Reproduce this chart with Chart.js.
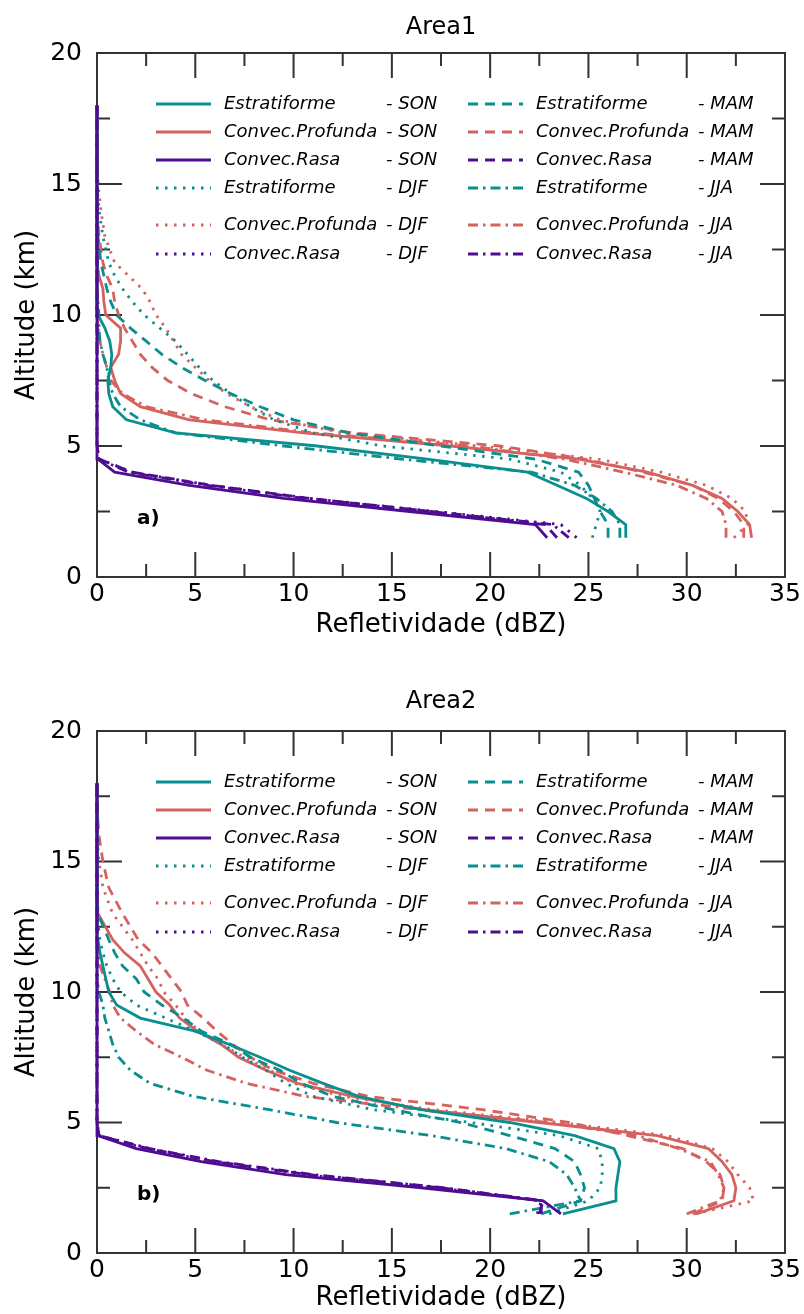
<!DOCTYPE html>
<html>
<head>
<meta charset="utf-8">
<script src="https://cdn.jsdelivr.net/npm/chart.js@4.4.1/dist/chart.umd.min.js"></script>
<style>
  html, body { margin: 0; padding: 0; background: #fff; }
  #wrap1 { position: absolute; left: 0; top: 0; width: 804px; height: 650px; }
  #wrap2 { position: absolute; left: 0; top: 650px; width: 804px; height: 664px; }
</style>
</head>
<body>
<div id="wrap1"><canvas id="area1"></canvas></div>
<div id="wrap2"><canvas id="area2"></canvas></div>
<script>
// altitude levels (km) shared by every profile
const levels = [1.5, 2, 2.5, 3, 3.5, 4, 4.5, 5, 5.5, 6, 6.5, 7, 7.5, 8, 8.5, 9, 9.5, 10, 10.5, 11, 11.5, 12, 13, 14, 15, 16, 17, 18];

const xTicks = [0, 5, 10, 15, 20, 25, 30, 35];
const yTicks = [0, 5, 10, 15, 20];

// Area1 - reflectivity (dBZ) at each level
const estSON1 = [26.9, 26.9, 26.0, 24.9, 23.4, 21.9, 16.8, 11.2, 4.0, 1.5, 0.8, 0.6, 0.55, 0.7, 0.75, 0.65, 0.4, 0.05, 0, 0, 0, 0, 0, 0, 0, 0, 0, 0];
const estMAM1 = [26.0, 26.0, 25.6, 25.3, 25.0, 24.5, 22.3, 17.5, 12.8, 10.0, 8.3, 6.8, 5.5, 4.3, 3.3, 2.5, 1.7, 1.0, 0.7, 0.5, 0.35, 0.2, 0.05, 0, 0, 0, 0, 0];
const estDJF1 = [25.2, 25.4, 25.6, 25.2, 24.6, 23.6, 21.0, 14.5, 11.0, 9.0, 7.8, 6.8, 5.9, 5.2, 4.6, 4.0, 3.2, 2.4, 1.8, 1.3, 0.9, 0.6, 0.3, 0.1, 0, 0, 0, 0];
const estJJA1 = [26.6, 26.6, 26.2, 25.4, 24.3, 22.1, 15.5, 9.5, 4.0, 2.2, 1.2, 0.8, 0.6, 0.5, 0.3, 0.15, 0.1, 0.1, 0.05, 0, 0, 0, 0, 0, 0, 0, 0, 0];
const profSON1 = [33.3, 33.2, 32.6, 31.8, 30.3, 28.0, 24.5, 18.0, 10.5, 4.7, 2.2, 1.2, 0.9, 0.7, 1.1, 1.2, 1.2, 0.45, 0.35, 0.3, 0.1, 0, 0, 0, 0, 0, 0, 0];
const profMAM1 = [32.9, 32.9, 32.4, 31.6, 30.3, 27.8, 24.8, 20.5, 13.0, 8.8, 6.5, 4.8, 3.6, 2.8, 2.2, 1.8, 1.4, 1.1, 0.9, 0.8, 0.5, 0.3, 0.1, 0, 0, 0, 0, 0];
const profDJF1 = [32.4, 33.1, 33.0, 32.3, 31.0, 28.7, 25.5, 19.5, 12.5, 9.3, 7.8, 6.6, 5.7, 5.0, 4.3, 3.9, 3.5, 3.0, 2.7, 2.3, 1.6, 0.9, 0.4, 0.2, 0.05, 0, 0, 0];
const profJJA1 = [32.0, 32.0, 31.8, 31.0, 29.5, 26.8, 23.8, 19.0, 11.0, 5.5, 2.5, 1.3, 0.7, 0.5, 0.3, 0.15, 0.05, 0, 0, 0, 0, 0, 0, 0, 0, 0, 0, 0];
const rasaSON1 = [22.9, 22.3, 15.9, 9.5, 4.7, 0.9, 0.05, 0, 0, 0, 0, 0, 0, 0, 0, 0, 0, 0, 0, 0, 0, 0, 0, 0, 0, 0, 0, 0];
const rasaMAM1 = [23.4, 22.8, 17.0, 10.8, 5.8, 1.8, 0.1, 0, 0, 0, 0, 0, 0, 0, 0, 0, 0, 0, 0, 0, 0, 0, 0, 0, 0, 0, 0, 0];
const rasaDJF1 = [24.4, 23.6, 17.2, 10.8, 5.8, 1.8, 0.1, 0, 0, 0, 0, 0, 0, 0, 0, 0, 0, 0, 0, 0, 0, 0, 0, 0, 0, 0, 0, 0];
const rasaJJA1 = [24.0, 23.2, 17.0, 10.6, 5.6, 1.6, 0.1, 0, 0, 0, 0, 0, 0, 0, 0, 0, 0, 0, 0, 0, 0, 0, 0, 0, 0, 0, 0, 0];

// Area2
const estSON2 = [23.7, 26.4, 26.4, 26.5, 26.6, 26.3, 24.3, 21.0, 16.4, 13.3, 11.5, 9.8, 8.3, 6.7, 5.0, 2.2, 1.0, 0.6, 0.45, 0.3, 0.15, 0.05, 0, 0, 0, 0, 0, 0];
const estMAM2 = [22.6, 24.6, 24.8, 24.6, 24.3, 23.3, 21.0, 18.5, 15.0, 12.0, 10.4, 9.3, 7.8, 6.8, 5.3, 4.4, 3.3, 2.4, 2.0, 1.3, 0.9, 0.6, 0.05, 0, 0, 0, 0, 0];
const estDJF2 = [23.0, 25.0, 25.6, 25.7, 25.7, 25.5, 23.5, 19.0, 14.0, 11.0, 9.6, 8.6, 7.4, 6.4, 5.0, 3.5, 2.0, 1.2, 0.8, 0.5, 0.3, 0.15, 0, 0, 0, 0, 0, 0];
const estJJA2 = [21.0, 24.6, 24.3, 23.9, 23.0, 20.8, 17.0, 12.2, 8.7, 4.9, 2.7, 1.7, 1.1, 0.8, 0.6, 0.4, 0.3, 0.1, 0, 0, 0, 0, 0, 0, 0, 0, 0, 0];
const profSON2 = [30.5, 32.4, 32.5, 32.3, 31.8, 31.1, 28.5, 22.5, 16.5, 13.0, 10.2, 8.6, 7.2, 6.3, 5.1, 4.2, 3.7, 3.0, 2.6, 2.2, 1.4, 0.8, 0.05, 0, 0, 0, 0, 0];
const profMAM2 = [30.3, 31.8, 31.9, 31.7, 31.0, 29.8, 27.0, 24.0, 19.5, 13.8, 11.0, 9.0, 7.8, 6.9, 6.1, 5.4, 4.6, 4.3, 3.8, 3.3, 2.8, 2.1, 1.3, 0.6, 0.3, 0.1, 0, 0];
const profDJF2 = [30.4, 33.4, 33.2, 32.6, 32.1, 31.3, 29.0, 23.5, 17.0, 12.5, 10.0, 8.8, 7.5, 6.3, 5.2, 4.5, 4.0, 3.4, 3.1, 2.6, 2.2, 1.8, 0.8, 0.3, 0.1, 0, 0, 0];
const profJJA2 = [30.0, 31.7, 31.9, 31.6, 31.2, 29.6, 27.5, 23.0, 16.3, 10.6, 7.6, 5.6, 4.3, 2.9, 2.0, 1.2, 0.8, 0.65, 0.4, 0.15, 0.05, 0, 0, 0, 0, 0, 0, 0];
const rasaSON2 = [23.6, 22.7, 16.5, 9.6, 5.3, 2.0, 0.05, 0, 0, 0, 0, 0, 0, 0, 0, 0, 0, 0, 0, 0, 0, 0, 0, 0, 0, 0, 0, 0];
const rasaMAM2 = [22.6, 22.6, 17.5, 10.8, 6.0, 2.6, 0.1, 0, 0, 0, 0, 0, 0, 0, 0, 0, 0, 0, 0, 0, 0, 0, 0, 0, 0, 0, 0, 0];
const rasaDJF2 = [22.4, 22.6, 17.3, 10.6, 5.9, 2.5, 0.1, 0, 0, 0, 0, 0, 0, 0, 0, 0, 0, 0, 0, 0, 0, 0, 0, 0, 0, 0, 0, 0];
const rasaJJA2 = [22.5, 22.7, 17.6, 11.0, 6.2, 2.7, 0.1, 0, 0, 0, 0, 0, 0, 0, 0, 0, 0, 0, 0, 0, 0, 0, 0, 0, 0, 0, 0, 0];

const typeColor = {
  'Estratiforme': '#0b8e8e',
  'Convec.Profunda': '#d5625f',
  'Convec.Rasa': '#4e0c92'
};
const seasonDash = {
  'SON': [],
  'MAM': [10, 7],
  'DJF': [2.5, 6.5],
  'JJA': [10, 5, 2.5, 5]
};
// legend order: first column then second column
const legendOrder = [
  ['Estratiforme', 'SON'], ['Convec.Profunda', 'SON'], ['Convec.Rasa', 'SON'],
  ['Estratiforme', 'DJF'], ['Convec.Profunda', 'DJF'], ['Convec.Rasa', 'DJF'],
  ['Estratiforme', 'MAM'], ['Convec.Profunda', 'MAM'], ['Convec.Rasa', 'MAM'],
  ['Estratiforme', 'JJA'], ['Convec.Profunda', 'JJA'], ['Convec.Rasa', 'JJA']
];
const legendRowY = [51, 79, 107, 135, 172, 201];

const FONT = 'DejaVu Sans';
const LW = 2.8;

function makeSets(list) {
  return list.map(([type, season, vals]) => ({
    label: type + ' - ' + season,
    type_: type,
    season: season,
    data: levels.map((alt, i) => ({x: vals[i], y: alt})),
    showLine: true,
    borderColor: typeColor[type],
    backgroundColor: typeColor[type],
    borderWidth: LW,
    borderDash: seasonDash[season],
    pointRadius: 0,
    tension: 0,
    clip: 4
  }));
}

const frame = {
  id: 'frame',
  beforeDatasetsDraw(chart) {
    const {ctx, chartArea: a, scales: {x, y}} = chart;
    ctx.save();
    ctx.strokeStyle = '#333';
    ctx.lineWidth = 2;
    ctx.strokeRect(a.left, a.top, a.right - a.left, a.bottom - a.top);
    ctx.beginPath();
    const xt = x.ticks.map(t => t.value);
    for (let i = 0; i < xt.length; i++) {
      const v = xt[i];
      if (i > 0 && i < xt.length - 1) {
        const px = x.getPixelForValue(v);
        ctx.moveTo(px, a.bottom); ctx.lineTo(px, a.bottom - 25);
        ctx.moveTo(px, a.top); ctx.lineTo(px, a.top + 25);
      }
      if (i < xt.length - 1) {
        const pm = x.getPixelForValue((v + xt[i + 1]) / 2);
        ctx.moveTo(pm, a.bottom); ctx.lineTo(pm, a.bottom - 13);
        ctx.moveTo(pm, a.top); ctx.lineTo(pm, a.top + 13);
      }
    }
    const yt = y.ticks.map(t => t.value);
    for (let i = 0; i < yt.length; i++) {
      const v = yt[i];
      if (i > 0 && i < yt.length - 1) {
        const py = y.getPixelForValue(v);
        ctx.moveTo(a.left, py); ctx.lineTo(a.left + 25, py);
        ctx.moveTo(a.right, py); ctx.lineTo(a.right - 25, py);
      }
      if (i < yt.length - 1) {
        const pm = y.getPixelForValue((v + yt[i + 1]) / 2);
        ctx.moveTo(a.left, pm); ctx.lineTo(a.left + 13, pm);
        ctx.moveTo(a.right, pm); ctx.lineTo(a.right - 13, pm);
      }
    }
    ctx.stroke();
    ctx.restore();
  },
  afterDraw(chart, args, opts) {
    const {ctx, chartArea: a} = chart;
    ctx.save();
    // title
    ctx.fillStyle = '#000';
    ctx.font = '24px "' + FONT + '"';
    ctx.textAlign = 'center';
    ctx.textBaseline = 'middle';
    ctx.fillText(opts.title, (a.left + a.right) / 2, a.top - opts.titleGap);
    // panel letter
    ctx.font = 'bold 20px "' + FONT + '"';
    ctx.textAlign = 'left';
    ctx.fillText(opts.letter, a.left + 40, a.bottom - 58);
    // legend
    const sets = chart.data.datasets;
    legendOrder.forEach(([type, season], k) => {
      const ds = sets.find(d => d.type_ === type && d.season === season);
      const col = Math.floor(k / 6), row = k % 6;
      const yy = a.top + legendRowY[row];
      const x0 = a.left + 59 + col * 312;
      ctx.beginPath();
      ctx.strokeStyle = ds.borderColor;
      ctx.lineWidth = LW;
      ctx.setLineDash(ds.borderDash);
      ctx.moveTo(x0, yy); ctx.lineTo(x0 + 55, yy);
      ctx.stroke();
      ctx.setLineDash([]);
      ctx.fillStyle = '#000';
      ctx.font = 'italic 18px "' + FONT + '"';
      ctx.textAlign = 'left';
      ctx.textBaseline = 'middle';
      ctx.fillText(type, x0 + 68, yy);
      ctx.fillText('- ' + season, x0 + 230, yy);
    });
    ctx.restore();
  }
};

function makeChart(id, sets, cfg) {
  return new Chart(document.getElementById(id), {
    type: 'scatter',
    data: {datasets: sets},
    plugins: [frame],
    options: {
      responsive: true,
      maintainAspectRatio: false,
      animation: false,
      events: [],
      layout: {padding: {left: 0, right: 19, top: cfg.top, bottom: 0}},
      plugins: {
        legend: {display: false},
        tooltip: {enabled: false},
        frame: {title: cfg.title, letter: cfg.letter, titleGap: cfg.titleGap}
      },
      scales: {
        x: {
          type: 'linear', min: 0, max: 35,
          afterBuildTicks: s => { s.ticks = xTicks.map(v => ({value: v})); },
          ticks: {color: '#000', padding: 2, maxRotation: 0, font: {family: FONT, size: 25}},
          grid: {display: false, drawTicks: false},
          border: {display: false},
          title: {display: true, text: 'Refletividade (dBZ)', color: '#000',
                  font: {family: FONT, size: 26}, padding: {top: 0, bottom: cfg.xTitlePad}},
          afterFit: s => { s.height = cfg.xHeight; }
        },
        y: {
          type: 'linear', min: 0, max: 20,
          afterBuildTicks: s => { s.ticks = yTicks.map(v => ({value: v})); },
          ticks: {color: '#000', padding: 15, font: {family: FONT, size: 25}},
          grid: {display: false, drawTicks: false},
          border: {display: false},
          title: {display: true, text: 'Altitude (km)', color: '#000',
                  font: {family: FONT, size: 26}, padding: {top: 11.4, bottom: 0}},
          afterFit: s => { s.width = 97; }
        }
      }
    }
  });
}

const sets1 = makeSets([
  ['Convec.Rasa', 'SON', rasaSON1], ['Convec.Rasa', 'MAM', rasaMAM1],
  ['Convec.Rasa', 'DJF', rasaDJF1], ['Convec.Rasa', 'JJA', rasaJJA1],
  ['Estratiforme', 'SON', estSON1], ['Estratiforme', 'MAM', estMAM1],
  ['Estratiforme', 'DJF', estDJF1], ['Estratiforme', 'JJA', estJJA1],
  ['Convec.Profunda', 'SON', profSON1], ['Convec.Profunda', 'MAM', profMAM1],
  ['Convec.Profunda', 'DJF', profDJF1], ['Convec.Profunda', 'JJA', profJJA1]
]);
const sets2 = makeSets([
  ['Convec.Rasa', 'SON', rasaSON2], ['Convec.Rasa', 'MAM', rasaMAM2],
  ['Convec.Rasa', 'DJF', rasaDJF2], ['Convec.Rasa', 'JJA', rasaJJA2],
  ['Estratiforme', 'SON', estSON2], ['Estratiforme', 'MAM', estMAM2],
  ['Estratiforme', 'DJF', estDJF2], ['Estratiforme', 'JJA', estJJA2],
  ['Convec.Profunda', 'SON', profSON2], ['Convec.Profunda', 'MAM', profMAM2],
  ['Convec.Profunda', 'DJF', profDJF2], ['Convec.Profunda', 'JJA', profJJA2]
]);

makeChart('area1', sets1, {top: 53, xHeight: 73, xTitlePad: 9.4, title: 'Area1', letter: 'a)', titleGap: 25});
makeChart('area2', sets2, {top: 81, xHeight: 61, xTitlePad: 0, title: 'Area2', letter: 'b)', titleGap: 29});
</script>
</body>
</html>
